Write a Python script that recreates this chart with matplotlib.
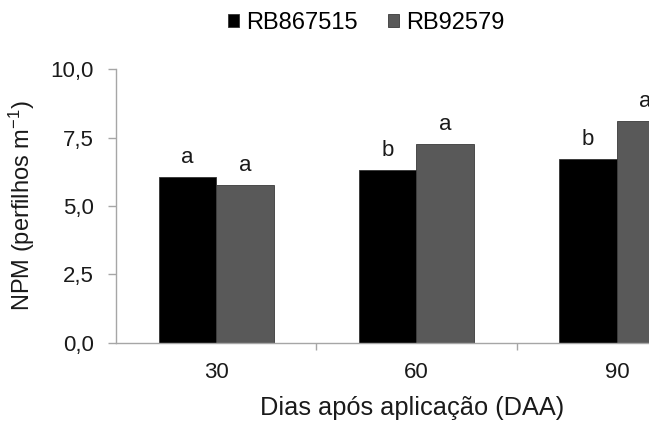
import numpy as np
import matplotlib
matplotlib.use('Agg')
import matplotlib.pyplot as plt

plt.rcParams['font.family'] = ['Liberation Sans', 'DejaVu Sans']
plt.rcParams['mathtext.fontset'] = 'custom'
plt.rcParams['mathtext.rm'] = 'Liberation Sans'
plt.rcParams['mathtext.it'] = 'Liberation Sans:italic'

# dados
dias = ['30', '60', '90']
rb867515 = [6.07, 6.31, 6.72]
rb92579 = [5.76, 7.28, 8.12]
letras_867515 = ['a', 'b', 'b']
letras_92579 = ['a', 'a', 'a']
yticks = [0.0, 2.5, 5.0, 7.5, 10.0]
ytick_labels = ['0,0', '2,5', '5,0', '7,5', '10,0']

fig = plt.figure(figsize=(6.49, 4.21), dpi=100)
# o eixo vai além da borda direita, como na figura original (cortada)
ax = fig.add_axes([116 / 649, 78.3 / 421, 601 / 649, 273.3 / 421])

x = np.arange(len(dias))
w = 0.287
cinza_eixo = '#A6A6A6'
texto = '#1a1a1a'

b1 = ax.bar(x - w / 2, rb867515, w, color='#000000', edgecolor='#333333', linewidth=0.6, label='RB867515')
b2 = ax.bar(x + w / 2, rb92579, w, color='#595959', edgecolor='#3a3a3a', linewidth=0.6, label='RB92579')

for bars, letras in [(b1, letras_867515), (b2, letras_92579)]:
    for rect, letra in zip(bars, letras):
        ax.annotate(letra, (rect.get_x() + rect.get_width() / 2, rect.get_height()),
                    xytext=(0, 10), textcoords='offset points', ha='center', va='baseline',
                    fontsize=16, color=texto, annotation_clip=False)

ax.set_xlim(-0.5, 2.5)
ax.set_ylim(0, 10)
ax.set_yticks(yticks)
ax.set_yticklabels(ytick_labels)
ax.set_xticks(x)
ax.set_xticklabels(dias)
ax.set_xticks([0.5, 1.5], minor=True)

for s in ['top', 'right']:
    ax.spines[s].set_visible(False)
for s in ['left', 'bottom']:
    ax.spines[s].set_color(cinza_eixo)
    ax.spines[s].set_linewidth(1.0)

ax.tick_params(axis='y', length=6, width=1, color=cinza_eixo, labelsize=16, labelcolor=texto, pad=10)
ax.tick_params(axis='x', which='major', length=0, labelsize=16, labelcolor=texto, pad=14)
ax.tick_params(axis='x', which='minor', length=5, width=1, color=cinza_eixo)

ax.set_xlabel('Dias após aplicação (DAA)', fontsize=18.3, color=texto)
ax.xaxis.set_label_coords((412 - 116) / 601, -(408 - 343) / 273.3)
ax.xaxis.label.set_va('center')
ax.set_ylabel('NPM (perfilhos m$^{-1}$)', fontsize=17, color=texto)
ax.yaxis.set_label_coords(-(116 - 22) / 601, 0.5)
ax.yaxis.label.set_va('center')

fig.legend(handles=[b1, b2], loc='center', bbox_to_anchor=(366 / 649, 1 - 23 / 421),
           ncol=2, frameon=False, fontsize=17, handlelength=0.47, handleheight=0.47,
           handletextpad=0.3, columnspacing=1.27)

fig.savefig('out.png', dpi=100)
